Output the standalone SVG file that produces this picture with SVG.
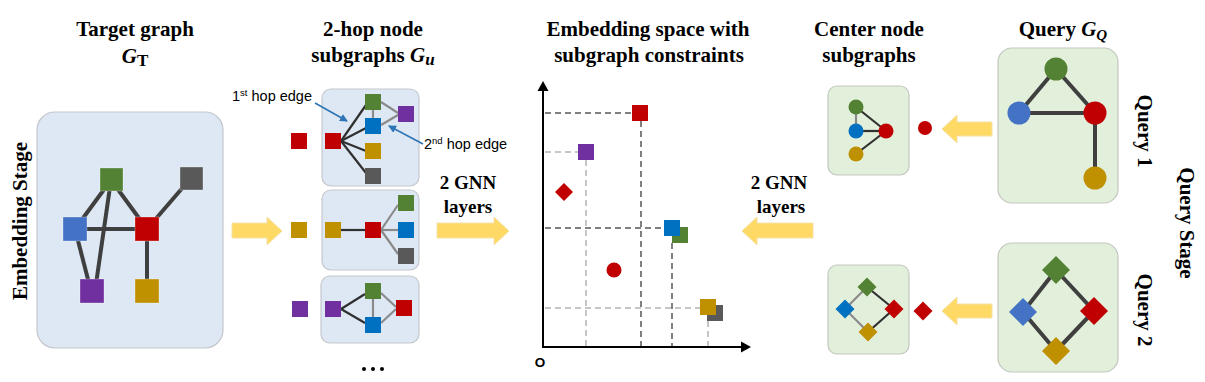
<svg xmlns="http://www.w3.org/2000/svg" width="1205" height="382" viewBox="0 0 1205 382">
<style>
.ttl{font-family:"Liberation Serif",serif;font-weight:bold;font-size:21px;fill:#000}
.gnn{font-family:"Liberation Serif",serif;font-weight:bold;font-size:19px;fill:#000}
.ann{font-family:"Liberation Sans",sans-serif;font-size:14.5px;fill:#000}
.bpan{fill:#dee8f4;stroke:#c3c7cc;stroke-width:1.2}
.gpan{fill:#e2efda;stroke:#c3c7c0;stroke-width:1.2}
.e4{stroke:#3f3f3f;stroke-width:4;fill:none}
.ed{stroke:#303030;stroke-width:2.2;fill:none}
.eg{stroke:#8a8a8a;stroke-width:2.2;fill:none}
.yarr{fill:#ffd966;stroke:#f3e2a6;stroke-width:1}
.dd{stroke:#7f7f7f;stroke-width:2;stroke-dasharray:6,4;fill:none}
.dl{stroke:#c6c6c6;stroke-width:2;stroke-dasharray:6,4;fill:none}
.red{fill:#c00000}.grn{fill:#548235}.blu{fill:#4472c4}.blu2{fill:#0070c0}.pur{fill:#7030a0}.gld{fill:#bf9000}.gry{fill:#595959}
.sq{stroke:#ffffff;stroke-width:0.6;stroke-opacity:0.5}
</style>
<defs>
<marker id="barr" markerWidth="8" markerHeight="8" refX="7" refY="4" orient="auto" markerUnits="userSpaceOnUse">
<path d="M0,0 L8,4 L0,8 Z" fill="#2e75b6"/>
</marker>
</defs>

<!-- Titles -->
<g id="titles">
<text class="ttl" x="135" y="36" text-anchor="middle">Target graph</text>
<text class="ttl" x="135" y="63" text-anchor="middle"><tspan font-style="italic">G</tspan><tspan font-size="17" dy="3">T</tspan></text>
<text class="ttl" x="373" y="36" text-anchor="middle">2-hop node</text>
<text class="ttl" x="373" y="62" text-anchor="middle">subgraphs <tspan font-style="italic">G</tspan><tspan font-style="italic" font-size="17" dy="3">u</tspan></text>
<text class="ttl" x="648" y="36" text-anchor="middle">Embedding space with</text>
<text class="ttl" x="649" y="62" text-anchor="middle">subgraph constraints</text>
<text class="ttl" x="869" y="36" text-anchor="middle">Center node</text>
<text class="ttl" x="869" y="62" text-anchor="middle">subgraphs</text>
<text class="ttl" x="1063" y="36" text-anchor="middle">Query <tspan font-style="italic">G</tspan><tspan font-style="italic" font-size="15" dy="4">Q</tspan></text>
<text class="ttl" transform="translate(27,221) rotate(-90)" text-anchor="middle">Embedding Stage</text>
<text class="ttl" transform="translate(1138,131) rotate(90)" text-anchor="middle">Query 1</text>
<text class="ttl" transform="translate(1138,310) rotate(90)" text-anchor="middle">Query 2</text>
<text class="ttl" transform="translate(1180,223) rotate(90)" text-anchor="middle">Query Stage</text>
<text class="gnn" x="468" y="189" text-anchor="middle">2 GNN</text>
<text class="gnn" x="468" y="213" text-anchor="middle">layers</text>
<text class="gnn" x="779" y="189" text-anchor="middle">2 GNN</text>
<text class="gnn" x="781" y="213" text-anchor="middle">layers</text>
</g>

<!-- Target graph -->
<g id="target-graph">
<rect class="bpan" x="37" y="112" width="186" height="236" rx="18"/>
<line class="e4" x1="111" y1="180" x2="75" y2="229"/>
<line class="e4" x1="111" y1="180" x2="147" y2="229"/>
<line class="e4" x1="111" y1="180" x2="95" y2="291"/>
<line class="e4" x1="75" y1="229" x2="147" y2="229"/>
<line class="e4" x1="75" y1="229" x2="91" y2="291"/>
<line class="e4" x1="147" y1="229" x2="191" y2="178"/>
<line class="e4" x1="147" y1="229" x2="147" y2="291"/>
<rect class="grn sq" x="100" y="168" width="23" height="23"/>
<rect class="gry sq" x="180" y="167" width="23" height="23"/>
<rect class="blu sq" x="63" y="217" width="24" height="24"/>
<rect class="red sq" x="135" y="217" width="24" height="24"/>
<rect class="pur sq" x="80" y="279" width="24" height="24"/>
<rect class="gld sq" x="135" y="279" width="24" height="24"/>
</g>

<!-- 2-hop subgraphs -->
<g id="subgraph-1">
<rect class="red" x="291" y="133" width="16" height="16"/>
<rect class="bpan" x="322" y="89" width="97" height="97" rx="9"/>
<line class="ed" x1="341" y1="141" x2="366" y2="105"/>
<line class="ed" x1="341" y1="141" x2="366" y2="128"/>
<line class="ed" x1="341" y1="141" x2="366" y2="151"/>
<line class="ed" x1="341" y1="141" x2="366" y2="173"/>
<line class="eg" x1="373" y1="110" x2="373" y2="118"/>
<line class="eg" x1="381" y1="102" x2="398" y2="113"/>
<line class="eg" x1="381" y1="125" x2="398" y2="115"/>
<rect class="grn" x="365" y="94" width="16" height="16"/>
<rect class="pur" x="398" y="106" width="16" height="16"/>
<rect class="blu2" x="365" y="118" width="16" height="16"/>
<rect class="red" x="325" y="133" width="16" height="16"/>
<rect class="gld" x="365" y="143" width="16" height="16"/>
<rect class="gry" x="365" y="168" width="16" height="16"/>
<text class="ann" x="232" y="101">1<tspan font-size="9.5" dy="-5">st</tspan><tspan dy="5"> hop edge</tspan></text>
<text class="ann" x="424" y="149">2<tspan font-size="9.5" dy="-5">nd</tspan><tspan dy="5"> hop edge</tspan></text>
</g>
<g id="subgraph-2">
<rect class="gld" x="291" y="222" width="16" height="16"/>
<rect class="bpan" x="322" y="190" width="97" height="80" rx="9"/>
<line class="ed" x1="341" y1="230" x2="365" y2="230"/>
<line class="eg" x1="381" y1="230" x2="398" y2="205"/>
<line class="eg" x1="381" y1="230" x2="398" y2="230"/>
<line class="eg" x1="381" y1="230" x2="398" y2="254"/>
<rect class="gld" x="325" y="222" width="16" height="16"/>
<rect class="red" x="365" y="222" width="16" height="16"/>
<rect class="grn" x="398" y="195" width="16" height="16"/>
<rect class="blu2" x="398" y="222" width="16" height="16"/>
<rect class="gry" x="398" y="248" width="16" height="16"/>
</g>
<g id="subgraph-3">
<rect class="pur" x="292" y="301" width="16" height="16"/>
<rect class="bpan" x="321" y="276" width="98" height="67" rx="9"/>
<line class="ed" x1="341" y1="309" x2="365" y2="294"/>
<line class="ed" x1="341" y1="309" x2="365" y2="323"/>
<line class="eg" x1="373" y1="299" x2="373" y2="317"/>
<line class="eg" x1="381" y1="293" x2="396" y2="307"/>
<line class="eg" x1="381" y1="323" x2="396" y2="309"/>
<rect class="grn" x="365" y="283" width="16" height="16"/>
<rect class="blu2" x="365" y="317" width="16" height="16"/>
<rect class="red" x="396" y="300" width="16" height="16"/>
<rect class="pur" x="325" y="301" width="16" height="16"/>
<g fill="#000"><circle cx="364" cy="369" r="2"/><circle cx="373" cy="369" r="2"/><circle cx="382" cy="369" r="2"/></g>
</g>

<!-- Embedding space -->
<g id="embedding-space">
<line class="dd" x1="545" y1="113" x2="632" y2="113"/>
<line class="dd" x1="641" y1="121" x2="641" y2="346"/>
<line class="dl" x1="545" y1="152" x2="578" y2="152"/>
<line class="dl" x1="586" y1="160" x2="586" y2="346"/>
<line class="dd" x1="545" y1="228" x2="664" y2="228"/>
<line class="dd" x1="672" y1="243" x2="672" y2="346"/>
<line class="dl" x1="545" y1="308" x2="700" y2="308"/>
<line class="dl" x1="708" y1="321" x2="708" y2="346"/>
<line x1="543" y1="348" x2="543" y2="89" stroke="#000" stroke-width="2"/>
<path d="M543,81 L537.5,91 L548.5,91 Z" fill="#000"/>
<line x1="542" y1="347" x2="742" y2="347" stroke="#000" stroke-width="2"/>
<path d="M751,347 L741,341.5 L741,352.5 Z" fill="#000"/>
<text x="540" y="367" font-family="Liberation Sans, sans-serif" font-weight="bold" font-size="13.5" text-anchor="middle">O</text>
<rect class="red" x="632" y="105" width="16" height="16"/>
<rect class="pur" x="578" y="144" width="16" height="16"/>
<path class="red" d="M564,183 L573,192 L564,201 L555,192 Z"/>
<rect class="grn" x="672" y="227" width="16" height="16"/>
<rect class="blu2" x="664" y="220" width="16" height="16"/>
<circle class="red" cx="614" cy="270" r="7.5"/>
<rect class="gry" x="707" y="305" width="16" height="16"/>
<rect class="gld" x="700" y="299" width="16" height="16"/>
</g>

<!-- Center node subgraphs -->
<g id="center-subgraph-1">
<rect class="gpan" x="828" y="86" width="81" height="89" rx="9"/>
<line class="eg" x1="856" y1="107" x2="856" y2="131"/>
<line class="ed" x1="856" y1="107" x2="886" y2="131"/>
<line class="ed" x1="856" y1="131" x2="886" y2="131"/>
<line class="ed" x1="856" y1="154" x2="886" y2="131"/>
<circle class="grn" cx="856" cy="107" r="7.5"/>
<circle class="blu2" cx="856" cy="131" r="7.5"/>
<circle class="red" cx="886" cy="131" r="7.5"/>
<circle class="gld" cx="856" cy="154" r="7.5"/>
<circle class="red" cx="925" cy="128" r="7"/>
</g>
<g id="center-subgraph-2">
<rect class="gpan" x="828" y="265" width="81" height="89" rx="9"/>
<line class="eg" x1="867" y1="287" x2="845" y2="309"/>
<line class="ed" x1="867" y1="287" x2="894" y2="309"/>
<line class="eg" x1="845" y1="309" x2="868" y2="332"/>
<line class="ed" x1="868" y1="332" x2="894" y2="309"/>
<path class="grn" d="M867,277.5 L876.5,287 L867,296.5 L857.5,287 Z"/>
<path class="blu2" d="M845,299.5 L854.5,309 L845,318.5 L835.5,309 Z"/>
<path class="red" d="M894,299.5 L903.5,309 L894,318.5 L884.5,309 Z"/>
<path class="gld" d="M868,322.5 L877.5,332 L868,341.5 L858.5,332 Z"/>
<path class="red" d="M923,301.5 L932.5,311 L923,320.5 L913.5,311 Z"/>
</g>

<!-- Queries -->
<g id="query-1">
<rect class="gpan" x="998" y="48" width="120" height="155" rx="14"/>
<line class="e4" x1="1056" y1="69" x2="1019" y2="113"/>
<line class="e4" x1="1056" y1="69" x2="1095" y2="113"/>
<line class="e4" x1="1019" y1="113" x2="1095" y2="113"/>
<line class="e4" x1="1095" y1="113" x2="1095" y2="178"/>
<circle class="grn" cx="1056" cy="69" r="11.5"/>
<circle class="blu" cx="1019" cy="113" r="11.5"/>
<circle class="red" cx="1095" cy="113" r="11.5"/>
<circle class="gld" cx="1095" cy="178" r="11.5"/>
</g>
<g id="query-2">
<rect class="gpan" x="998" y="243" width="120" height="129" rx="14"/>
<line class="e4" x1="1056" y1="270" x2="1023" y2="312"/>
<line class="e4" x1="1056" y1="270" x2="1094" y2="311"/>
<line class="e4" x1="1023" y1="312" x2="1056" y2="351"/>
<line class="e4" x1="1056" y1="351" x2="1094" y2="311"/>
<path class="grn" d="M1056,256 L1070,270 L1056,284 L1042,270 Z"/>
<path class="blu" d="M1023,298 L1037,312 L1023,326 L1009,312 Z"/>
<path class="red" d="M1094,297 L1108,311 L1094,325 L1080,311 Z"/>
<path class="gld" d="M1056,337 L1070,351 L1056,365 L1042,351 Z"/>
</g>

<!-- Connectors -->
<g id="connectors">
<path class="yarr" d="M232,223 H267 V217 L282,231 L267,245 V238 H232 Z"/>
<path class="yarr" d="M437,223 H494 V217 L509,231 L494,245 V238 H437 Z"/>
<path class="yarr" d="M813,223 H757 V217 L742,231 L757,245 V238 H813 Z"/>
<path class="yarr" d="M992,122 H957 V115 L942,129 L957,143 V136 H992 Z"/>
<path class="yarr" d="M992,304 H957 V297 L942,311 L957,325 V318 H992 Z"/>
<path d="M315,103 L347,121" stroke="#2e75b6" stroke-width="1.6" marker-end="url(#barr)"/>
<path d="M423,144 L389,126" stroke="#2e75b6" stroke-width="1.6" marker-end="url(#barr)"/>
</g>
</svg>
